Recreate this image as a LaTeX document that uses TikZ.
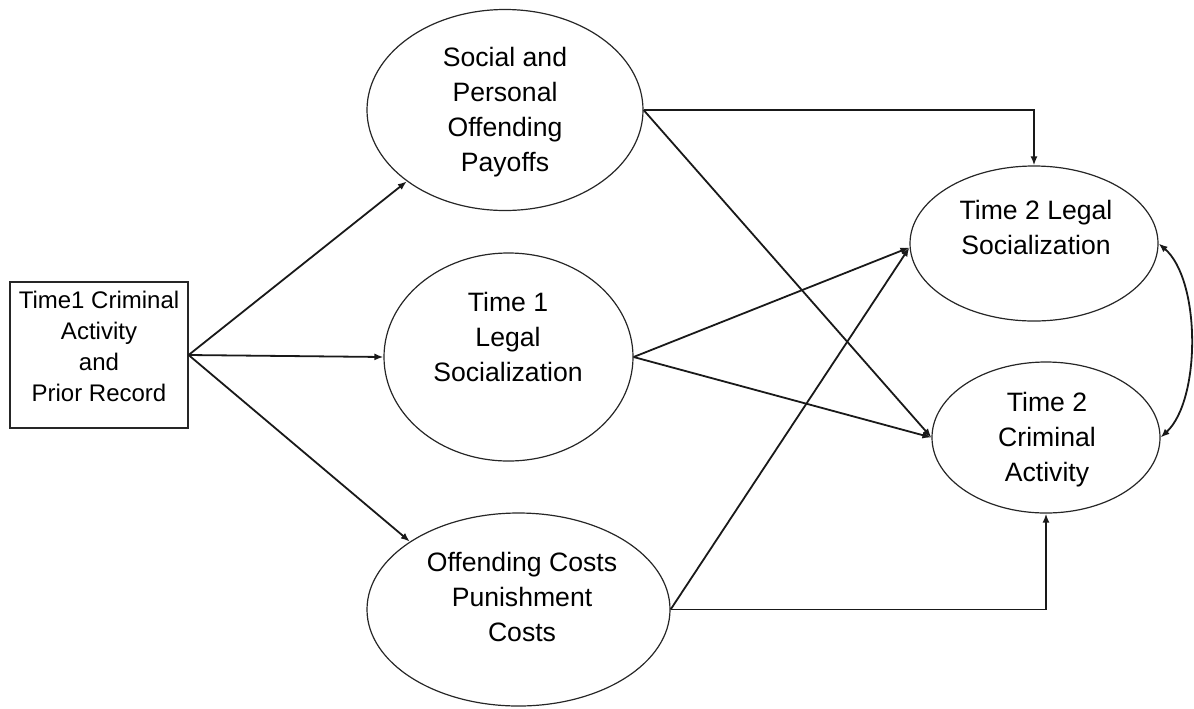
\documentclass[tikz,border=0pt]{standalone}
\usepackage{fontspec}
\setmainfont{Liberation Sans}
\usetikzlibrary{shapes.geometric,arrows.meta}
\begin{document}
\begin{tikzpicture}[x=0.5pt,y=-0.5pt,
  oval/.style={draw=black!85,line width=0.6pt,ellipse,inner sep=0pt},
  label text/.style={align=center,inner sep=0pt,font=\fontsize{13.3}{17.5}\selectfont},
  path arrow/.style={draw=black!90,line width=0.9pt,-{Latex[length=4.5pt,width=3.5pt]}},
  both arrow/.style={draw=black!90,line width=0.9pt,{Latex[length=4.5pt,width=3.5pt]}-{Latex[length=4.5pt,width=3.5pt]}}]
\useasboundingbox (0,0) rectangle (1194,708);

% exogenous measure
\node[draw=black!85,line width=0.6pt,minimum width=89pt,minimum height=73pt,inner sep=0pt] (t1) at (99,355) {};
\node[align=center,inner sep=0pt,font=\fontsize{12}{15.5}\selectfont] (t1txt) at (99,346)
  {Time1 Criminal\\Activity\\and\\Prior Record};

% mediating constructs
\node[oval,minimum width=138pt,minimum height=100.5pt] (pay) at (505,110) {};
\node[label text] (paytxt) at (505,112) {Social and\\Personal\\Offending\\Payoffs};

\node[oval,minimum width=124.5pt,minimum height=104pt] (ls1) at (508.5,357) {};
\node[label text] (ls1txt) at (508,337) {Time 1\\Legal\\Socialization};

\node[oval,minimum width=151.5pt,minimum height=96.5pt] (cost) at (518.5,609.5) {};
\node[label text] (costtxt) at (522,597) {Offending Costs\\Punishment\\Costs};

% outcomes
\node[oval,minimum width=124pt,minimum height=77.5pt] (ls2) at (1034,243.5) {};
\node[label text] (ls2txt) at (1036,227) {Time 2 Legal\\Socialization};

\node[oval,minimum width=114pt,minimum height=75.5pt] (ca2) at (1046,437.5) {};
\node[label text] (ca2txt) at (1047,440) {Time 2\\Criminal\\Activity};

% paths
\draw[path arrow] (t1.east) -- (pay.216);
\draw[path arrow] (t1.east) -- (ls1.west);
\draw[path arrow] (t1.east) -- (cost.148);

\draw[path arrow] (pay.east) -- (pay.east -| ls2.north) -- (ls2.north);
\draw[path arrow] (pay.east) -- (ca2.west);

\draw[path arrow] (ls1.east) -- ([yshift=-2pt]ls2.west);
\draw[path arrow] (ls1.east) -- (ca2.west);

\draw[path arrow] (cost.east) -- ([yshift=-2pt]ls2.west);
\draw[path arrow] (cost.east) -- (cost.east -| ca2.south) -- (ca2.south);

\draw[both arrow] (ls2.east) .. controls (1201,280) and (1201,400) .. (ca2.east);
\end{tikzpicture}
\end{document}
